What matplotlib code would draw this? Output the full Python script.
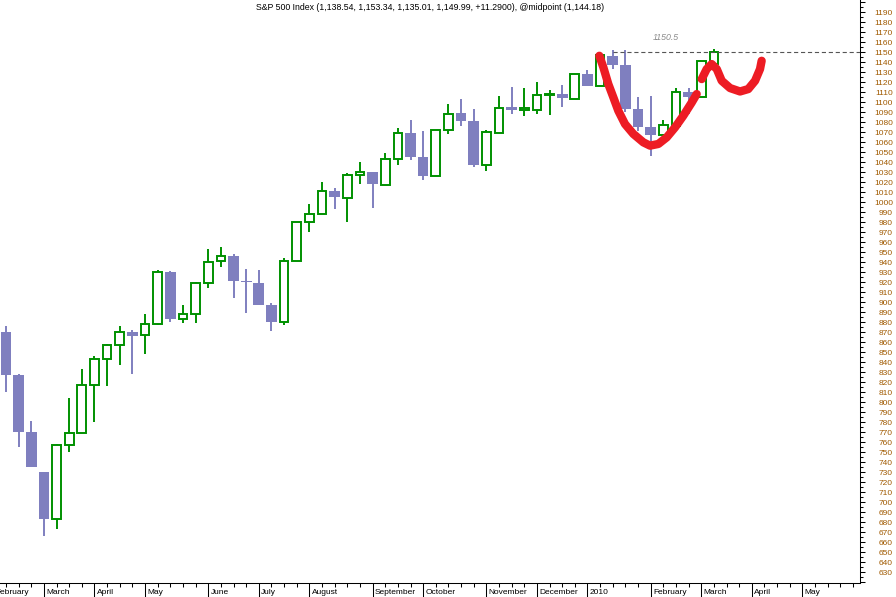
import matplotlib
matplotlib.use("Agg")
import matplotlib.pyplot as plt
import matplotlib.transforms as mtransforms
from matplotlib.patches import Rectangle

plt.rcParams['font.family'] = ['Liberation Sans', 'DejaVu Sans']
plt.rcParams['lines.scale_dashes'] = False

# weekly S&P 500 bars, index 0 = week ending 13 Feb 2009
opens = [870.0, 827.6, 770.5, 730.0, 683.0, 757.0, 769.4, 817.3, 843.2, 857.4,
         870.5, 867.0, 878.4, 930.0, 883.0, 888.0, 919.0, 941.0, 946.0, 921.8,
         919.8, 897.8, 880.4, 941.5, 980.6, 988.6, 1011.9, 1004.6, 1027.7, 1030.0,
         1017.7, 1043.7, 1069.1, 1045.0, 1026.7, 1072.8, 1089.1, 1081.1, 1037.7, 1069.8,
         1095.1, 1092.8, 1092.4, 1107.0, 1108.4, 1103.8, 1128.2, 1116.4, 1146.5, 1137.5,
         1093.1, 1075.4, 1067.4, 1076.4, 1110.8, 1105.8, 1138.54]
highs = [876.0, 828.0, 781.5, 730.0, 758.7, 804.0, 833.6, 846.6, 858.7, 876.0,
         872.0, 888.0, 932.0, 931.0, 897.0, 920.0, 953.0, 955.0, 948.0, 933.0,
         932.8, 899.8, 944.8, 980.6, 998.9, 1020.0, 1014.0, 1029.0, 1040.0, 1030.0,
         1049.0, 1074.8, 1082.1, 1071.1, 1072.8, 1098.1, 1103.1, 1093.1, 1072.1, 1106.1,
         1115.1, 1114.1, 1120.1, 1112.1, 1117.1, 1128.2, 1132.2, 1147.2, 1152.2, 1152.2,
         1105.4, 1106.4, 1082.1, 1114.4, 1114.4, 1141.2, 1153.34]
lows = [809.9, 755.8, 735.1, 666.3, 673.6, 750.6, 769.4, 780.8, 816.0, 837.0,
        828.6, 848.4, 877.0, 880.0, 879.0, 879.0, 914.0, 935.0, 904.0, 889.0,
        897.0, 871.0, 877.0, 941.5, 970.2, 988.6, 993.9, 980.2, 1018.3, 994.2,
        1017.7, 1037.3, 1042.3, 1022.3, 1026.7, 1068.4, 1076.4, 1035.3, 1031.3, 1069.8,
        1088.4, 1086.4, 1088.1, 1087.4, 1095.4, 1103.8, 1116.4, 1116.4, 1133.2, 1090.0,
        1071.5, 1046.3, 1063.0, 1076.4, 1088.8, 1105.8, 1135.01]
closes = [827.6, 770.8, 735.1, 683.0, 757.0, 769.4, 817.3, 843.2, 857.4, 870.0,
          866.8, 878.4, 930.0, 883.0, 888.0, 919.0, 940.0, 946.0, 921.0, 920.0,
          897.0, 880.4, 941.5, 980.6, 988.6, 1011.9, 1005.2, 1027.7, 1030.7, 1018.3,
          1043.7, 1069.8, 1045.3, 1026.3, 1072.8, 1088.8, 1081.4, 1037.3, 1070.8, 1094.8,
          1092.4, 1094.0, 1107.1, 1108.2, 1104.4, 1128.2, 1116.4, 1147.2, 1137.5, 1093.1,
          1075.4, 1067.4, 1077.1, 1110.8, 1105.4, 1141.2, 1149.99]

# month labels sit on the first bar of each month
month_idx = [-1, 3, 7, 11, 16, 20, 24, 29, 33, 38, 42, 46, 51, 55, 59, 63]
month_names = ['February', 'March', 'April', 'May', 'June', 'July', 'August', 'September',
               'October', 'November', 'December', '2010', 'February', 'March', 'April', 'May']

title = "S&P 500 Index (1,138.54, 1,153.34, 1,135.01, 1,149.99, +11.2900), @midpoint (1,144.18)"

level_value = 1150.5
level_start = 48

# hand drawn red marks (bar index, price)
red_a_x = [46.94, 47.26, 47.65, 48.05, 48.44, 48.97, 49.63, 50.42, 50.95, 51.61, 52.27, 52.93, 53.58, 54.25, 54.64]
red_a_y = [1146.7, 1135.0, 1118.4, 1105.0, 1091.7, 1078.4, 1068.5, 1060.1, 1056.8, 1058.5, 1065.1, 1075.1, 1086.7, 1100.0, 1108.4]
red_b_x = [55.04, 55.43, 55.83, 56.23, 56.62, 57.28, 58.07, 58.72, 59.26, 59.65, 59.78]
red_b_y = [1123.4, 1133.4, 1138.4, 1133.4, 1121.7, 1114.4, 1111.0, 1113.4, 1121.7, 1133.4, 1141.7]

UP = '#009000'
DOWN = '#7f7fbf'

fig = plt.figure(figsize=(8.96, 5.97), dpi=100)
ax = fig.add_axes([0, 14 / 597, 860 / 896, 583 / 597])

for i in range(len(opens)):
    o, h, l, c = opens[i], highs[i], lows[i], closes[i]
    if c >= o:
        ax.vlines(i, l, h, color=UP, lw=1.4, zorder=2)
        ax.add_patch(Rectangle((i - 0.345, o), 0.69, c - o, facecolor='white',
                               edgecolor=UP, lw=1.4, zorder=3))
    else:
        ax.vlines(i, l, h, color=DOWN, lw=1.4, zorder=2)
        ax.add_patch(Rectangle((i - 0.423, c), 0.846, o - c, facecolor=DOWN,
                               edgecolor='none', zorder=3))

# axes frame
for s in ['top', 'left']:
    ax.spines[s].set_visible(False)
for s in ['bottom', 'right']:
    ax.spines[s].set_linewidth(0.75)

# x axis: weekly minor ticks, long month ticks, labels just right of the tick
ax.set_xticks(month_idx)
ax.set_xticklabels([])
ax.set_xticks(range(-1, 68), minor=True)
ax.tick_params(axis='x', which='major', length=10, width=0.75)
ax.tick_params(axis='x', which='minor', length=3, width=0.75)
shift = mtransforms.ScaledTranslation(0.025, -0.055, fig.dpi_scale_trans)
lab_tr = mtransforms.blended_transform_factory(ax.transData, ax.transAxes) + shift
for m, name in zip(month_idx, month_names):
    ax.text(m, 0, name, transform=lab_tr, ha='left', va='top', fontsize=6, clip_on=False)

# y axis on the right
ax.yaxis.tick_right()
ymaj = list(range(620, 1201, 10))
ax.set_yticks(ymaj)
ax.set_yticklabels(['' if v in (620, 1200) else str(v) for v in ymaj])
ax.set_yticks(range(625, 1200, 10), minor=True)
ax.tick_params(axis='y', which='major', length=3.8, width=0.75, pad=20, labelsize=6,
               labelcolor='#a05a00')
ax.tick_params(axis='y', which='minor', length=2.4, width=0.75)
for lab in ax.get_yticklabels():
    lab.set_horizontalalignment('right')

# limits after the ticks, set_xticks would widen them
ax.set_xlim(-0.475, 67.56)
ax.set_ylim(619.3, 1202.5)

ax.hlines(level_value, level_start, ax.get_xlim()[1], colors='#555555', lw=0.8,
          linestyles=(0, (3, 2)), zorder=4)
ax.text(level_start + 4.2, level_value + 14, f"{level_value}", color='#8c8c8c',
        fontsize=6.3, style='italic', ha='center', va='center')

ax.plot(red_a_x, red_a_y, color='#ed1c24', lw=6, solid_capstyle='round',
        solid_joinstyle='round', zorder=6)
ax.plot(red_b_x, red_b_y, color='#ed1c24', lw=6, solid_capstyle='round',
        solid_joinstyle='round', zorder=6)

fig.text(430 / 896, 1 - 7 / 597, title, ha='center', va='center', fontsize=6.3)

fig.savefig('out.png', dpi=100)
